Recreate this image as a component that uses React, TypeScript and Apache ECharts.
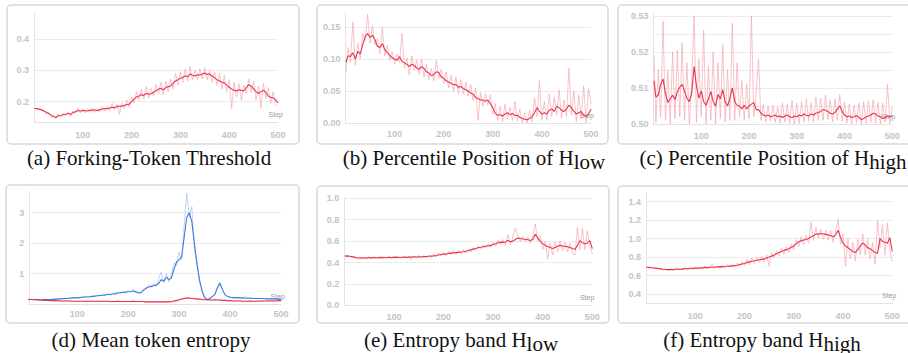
import React, { useEffect, useRef } from "react";
import * as echarts from "echarts";

const steps = [
  1, 5, 10, 15, 20, 25, 30, 35, 40, 45, 50, 55, 60, 65, 70, 75, 80, 85, 90, 95,
  100, 105, 110, 115, 120, 125, 130, 135, 140, 145, 150, 155, 160, 165, 170, 175, 180, 185, 190, 195,
  200, 205, 210, 215, 220, 225, 230, 235, 240, 245, 250, 255, 260, 265, 270, 275, 280, 285, 290, 295,
  300, 305, 310, 315, 320, 325, 330, 335, 340, 345, 350, 355, 360, 365, 370, 375, 380, 385, 390, 395,
  400, 405, 410, 415, 420, 425, 430, 435, 440, 445, 450, 455, 460, 465, 470, 475, 480, 485, 490, 495, 500,
];

// (a) Forking-Token Threshold
const thresholdSmooth = [
  0.178, 0.178, 0.176, 0.175, 0.170, 0.166, 0.162, 0.157, 0.152, 0.150,
  0.155, 0.156, 0.158, 0.160, 0.162, 0.160, 0.165, 0.168, 0.172, 0.170,
  0.172, 0.171, 0.170, 0.173, 0.172, 0.174, 0.171, 0.175, 0.176, 0.178,
  0.177, 0.180, 0.182, 0.181, 0.184, 0.186, 0.185, 0.188, 0.190, 0.192,
  0.200, 0.208, 0.215, 0.218, 0.222, 0.220, 0.226, 0.224, 0.225, 0.230,
  0.235, 0.240, 0.242, 0.238, 0.244, 0.248, 0.250, 0.258, 0.266, 0.270,
  0.275, 0.278, 0.282, 0.280, 0.288, 0.284, 0.282, 0.286, 0.285, 0.288,
  0.291, 0.287, 0.288, 0.282, 0.276, 0.270, 0.266, 0.262, 0.260, 0.252,
  0.246, 0.240, 0.236, 0.234, 0.238, 0.236, 0.234, 0.245, 0.254, 0.250,
  0.240, 0.232, 0.226, 0.232, 0.236, 0.230, 0.218, 0.214, 0.212, 0.206, 0.196,
];
const thresholdRaw = [
  0.182, 0.172, 0.180, 0.170, 0.174, 0.160, 0.166, 0.150, 0.156, 0.145,
  0.160, 0.150, 0.163, 0.155, 0.168, 0.152, 0.170, 0.162, 0.180, 0.163,
  0.176, 0.164, 0.178, 0.165, 0.180, 0.166, 0.178, 0.168, 0.185, 0.170,
  0.186, 0.172, 0.195, 0.174, 0.192, 0.160, 0.196, 0.178, 0.205, 0.182,
  0.215, 0.195, 0.232, 0.205, 0.240, 0.208, 0.248, 0.212, 0.242, 0.218,
  0.255, 0.225, 0.262, 0.222, 0.265, 0.232, 0.272, 0.240, 0.290, 0.252,
  0.296, 0.262, 0.305, 0.265, 0.312, 0.268, 0.300, 0.270, 0.305, 0.272,
  0.308, 0.270, 0.300, 0.262, 0.295, 0.252, 0.290, 0.240, 0.285, 0.232,
  0.270, 0.178, 0.262, 0.215, 0.258, 0.205, 0.252, 0.225, 0.272, 0.230,
  0.265, 0.205, 0.250, 0.180, 0.258, 0.210, 0.245, 0.195, 0.232, 0.190, 0.185,
];

// (b) Percentile position of H_low
const lowPctSmooth = [
  0.095, 0.105, 0.104, 0.110, 0.100, 0.112, 0.108, 0.122, 0.135, 0.140,
  0.134, 0.137, 0.130, 0.120, 0.118, 0.124, 0.115, 0.110, 0.106, 0.102,
  0.100, 0.098, 0.104, 0.096, 0.094, 0.092, 0.088, 0.092, 0.090, 0.086,
  0.084, 0.088, 0.085, 0.080, 0.078, 0.074, 0.076, 0.080, 0.079, 0.072,
  0.070, 0.066, 0.064, 0.062, 0.060, 0.060, 0.056, 0.057, 0.054, 0.052,
  0.050, 0.047, 0.045, 0.040, 0.038, 0.036, 0.036, 0.034, 0.036, 0.030,
  0.024, 0.015, 0.012, 0.013, 0.011, 0.014, 0.016, 0.013, 0.015, 0.012,
  0.012, 0.009, 0.007, 0.006, 0.005, 0.007, 0.010, 0.016, 0.024, 0.018,
  0.014, 0.016, 0.014, 0.020, 0.022, 0.018, 0.026, 0.024, 0.020, 0.018,
  0.022, 0.028, 0.024, 0.018, 0.014, 0.016, 0.018, 0.012, 0.010, 0.014, 0.022,
];
const lowPctRaw = [
  0.078, 0.118, 0.095, 0.158, 0.090, 0.125, 0.100, 0.140, 0.128, 0.170,
  0.125, 0.152, 0.122, 0.132, 0.108, 0.150, 0.105, 0.122, 0.098, 0.112,
  0.092, 0.108, 0.095, 0.140, 0.086, 0.102, 0.075, 0.105, 0.082, 0.098,
  0.076, 0.100, 0.072, 0.092, 0.068, 0.085, 0.066, 0.098, 0.070, 0.084,
  0.062, 0.080, 0.055, 0.075, 0.050, 0.072, 0.046, 0.068, 0.045, 0.064,
  0.042, 0.060, 0.035, 0.055, 0.004, 0.048, 0.026, 0.046, 0.028, 0.044,
  0.014, 0.030, 0.004, 0.026, 0.002, 0.030, 0.006, 0.024, 0.004, 0.034,
  0.002, 0.022, 0.000, 0.016, 0.000, 0.020, 0.002, 0.040, 0.010, 0.066,
  0.004, 0.034, 0.004, 0.046, 0.010, 0.040, 0.012, 0.052, 0.008, 0.036,
  0.010, 0.086, 0.012, 0.050, 0.002, 0.044, 0.006, 0.058, 0.000, 0.054, 0.030,
];

// (c) Percentile position of H_high
const highPctSmooth = [
  0.5120, 0.5075, 0.5080, 0.5110, 0.5125, 0.5085, 0.5060, 0.5070, 0.5080, 0.5068,
  0.5090, 0.5102, 0.5110, 0.5092, 0.5072, 0.5062, 0.5085, 0.5160, 0.5105, 0.5072,
  0.5092, 0.5062, 0.5052, 0.5070, 0.5090, 0.5062, 0.5050, 0.5082, 0.5070, 0.5095,
  0.5062, 0.5050, 0.5072, 0.5100, 0.5062, 0.5052, 0.5050, 0.5042, 0.5052, 0.5042,
  0.5050, 0.5055, 0.5060, 0.5040, 0.5040, 0.5030, 0.5025, 0.5022, 0.5025, 0.5020,
  0.5022, 0.5025, 0.5020, 0.5022, 0.5018, 0.5022, 0.5025, 0.5020, 0.5018, 0.5022,
  0.5020, 0.5025, 0.5022, 0.5028, 0.5024, 0.5022, 0.5028, 0.5025, 0.5030, 0.5032,
  0.5035, 0.5040, 0.5038, 0.5035, 0.5030, 0.5028, 0.5032, 0.5042, 0.5050, 0.5035,
  0.5025, 0.5020, 0.5022, 0.5018, 0.5020, 0.5024, 0.5018, 0.5012, 0.5015, 0.5020,
  0.5022, 0.5025, 0.5030, 0.5028, 0.5022, 0.5020, 0.5015, 0.5018, 0.5022, 0.5020, 0.5022,
];
const highPctRaw = [
  0.5190, 0.5005, 0.5150, 0.5020, 0.5285, 0.5010, 0.5150, 0.5000, 0.5200, 0.5015,
  0.5205, 0.5020, 0.5225, 0.5010, 0.5170, 0.5000, 0.5120, 0.5300, 0.5005, 0.5180,
  0.5020, 0.5260, 0.5000, 0.5160, 0.5010, 0.5200, 0.5000, 0.5170, 0.5015, 0.5220,
  0.5005, 0.5150, 0.5010, 0.5280, 0.5010, 0.5170, 0.5020, 0.5120, 0.5010, 0.5110,
  0.5015, 0.5300, 0.5020, 0.5090, 0.5180, 0.5010, 0.5055, 0.5005, 0.5050, 0.5008,
  0.5052, 0.5005, 0.5048, 0.5002, 0.5060, 0.5005, 0.5055, 0.5002, 0.5065, 0.5000,
  0.5058, 0.5002, 0.5062, 0.5005, 0.5070, 0.5008, 0.5060, 0.5005, 0.5075, 0.5010,
  0.5072, 0.5010, 0.5080, 0.5012, 0.5068, 0.5005, 0.5070, 0.5010, 0.5082, 0.5008,
  0.5060, 0.5002, 0.5055, 0.5000, 0.5052, 0.5003, 0.5058, 0.5000, 0.5062, 0.5002,
  0.5065, 0.5005, 0.5068, 0.5002, 0.5060, 0.5000, 0.5058, 0.5005, 0.5110, 0.5002, 0.5050,
];

// (d) Mean token entropy: two runs (blue, red)
const entropyBlueSmooth = [
  0.15, 0.15, 0.15, 0.15, 0.15, 0.14, 0.14, 0.15, 0.15, 0.15,
  0.15, 0.16, 0.16, 0.17, 0.17, 0.18, 0.18, 0.19, 0.20, 0.20,
  0.21, 0.21, 0.22, 0.23, 0.23, 0.24, 0.25, 0.26, 0.27, 0.28,
  0.29, 0.30, 0.31, 0.31, 0.33, 0.34, 0.36, 0.37, 0.38, 0.39,
  0.40, 0.41, 0.43, 0.40, 0.36, 0.38, 0.45, 0.52, 0.56, 0.58,
  0.60, 0.62, 0.68, 0.80, 0.75, 0.88, 0.80, 0.86, 1.15, 1.38,
  1.45, 1.55, 2.20, 2.85, 3.00, 2.70, 2.00, 1.30, 0.80, 0.42,
  0.22, 0.15, 0.17, 0.25, 0.30, 0.52, 0.68, 0.48, 0.30, 0.25,
  0.22, 0.21, 0.21, 0.20, 0.20, 0.20, 0.19, 0.19, 0.19, 0.18,
  0.18, 0.18, 0.18, 0.18, 0.17, 0.17, 0.17, 0.17, 0.16, 0.16, 0.16,
];
const entropyBlueRaw = [
  0.16, 0.14, 0.16, 0.14, 0.16, 0.13, 0.15, 0.14, 0.16, 0.14,
  0.16, 0.15, 0.17, 0.16, 0.18, 0.17, 0.19, 0.18, 0.21, 0.19,
  0.22, 0.20, 0.24, 0.22, 0.25, 0.23, 0.27, 0.24, 0.29, 0.27,
  0.31, 0.28, 0.34, 0.29, 0.36, 0.32, 0.40, 0.34, 0.42, 0.36,
  0.44, 0.38, 0.48, 0.36, 0.40, 0.33, 0.50, 0.48, 0.62, 0.54,
  0.68, 0.58, 0.85, 1.05, 0.70, 1.00, 0.72, 1.00, 1.35, 1.25,
  1.70, 1.45, 2.60, 3.65, 2.85, 3.20, 1.80, 1.45, 0.70, 0.50,
  0.18, 0.14, 0.20, 0.22, 0.34, 0.58, 0.72, 0.44, 0.33, 0.24,
  0.24, 0.20, 0.23, 0.19, 0.22, 0.19, 0.26, 0.18, 0.21, 0.17,
  0.20, 0.17, 0.19, 0.17, 0.19, 0.16, 0.18, 0.16, 0.18, 0.15, 0.17,
];
const entropyRedSmooth = [
  0.15, 0.15, 0.15, 0.14, 0.14, 0.13, 0.13, 0.12, 0.12, 0.12,
  0.11, 0.11, 0.11, 0.10, 0.10, 0.10, 0.10, 0.10, 0.09, 0.09,
  0.09, 0.09, 0.09, 0.09, 0.09, 0.09, 0.09, 0.09, 0.09, 0.09,
  0.09, 0.09, 0.09, 0.08, 0.08, 0.08, 0.09, 0.08, 0.08, 0.08,
  0.08, 0.08, 0.09, 0.08, 0.08, 0.08, 0.08, 0.07, 0.07, 0.07,
  0.07, 0.07, 0.07, 0.07, 0.07, 0.07, 0.07, 0.08, 0.10, 0.12,
  0.14, 0.16, 0.18, 0.20, 0.19, 0.18, 0.17, 0.17, 0.16, 0.15,
  0.14, 0.14, 0.13, 0.13, 0.14, 0.13, 0.13, 0.12, 0.12, 0.11,
  0.11, 0.10, 0.10, 0.10, 0.10, 0.09, 0.09, 0.09, 0.10, 0.09,
  0.09, 0.09, 0.10, 0.10, 0.10, 0.10, 0.10, 0.10, 0.10, 0.11, 0.11,
];
const entropyRedRaw = [
  0.17, 0.14, 0.16, 0.13, 0.15, 0.12, 0.14, 0.11, 0.13, 0.11,
  0.12, 0.10, 0.12, 0.09, 0.11, 0.09, 0.11, 0.09, 0.10, 0.08,
  0.10, 0.08, 0.10, 0.08, 0.10, 0.08, 0.10, 0.08, 0.10, 0.08,
  0.10, 0.08, 0.10, 0.07, 0.09, 0.07, 0.10, 0.07, 0.09, 0.07,
  0.09, 0.07, 0.10, 0.07, 0.09, 0.07, 0.09, 0.06, 0.08, 0.06,
  0.08, 0.06, 0.08, 0.06, 0.08, 0.06, 0.08, 0.06, 0.09, 0.07,
  0.13, 0.15, 0.20, 0.18, 0.22, 0.17, 0.20, 0.15, 0.18, 0.14,
  0.16, 0.12, 0.15, 0.12, 0.16, 0.12, 0.15, 0.11, 0.13, 0.10,
  0.12, 0.09, 0.11, 0.09, 0.12, 0.08, 0.10, 0.08, 0.11, 0.08,
  0.10, 0.08, 0.11, 0.09, 0.12, 0.09, 0.11, 0.09, 0.12, 0.10, 0.12,
];

// (e) Entropy band H_low
const bandLowSmooth = [
  0.460, 0.462, 0.458, 0.455, 0.450, 0.445, 0.442, 0.445, 0.440, 0.444,
  0.446, 0.443, 0.447, 0.444, 0.446, 0.448, 0.445, 0.447, 0.449, 0.446,
  0.448, 0.450, 0.447, 0.449, 0.451, 0.448, 0.452, 0.450, 0.453, 0.451,
  0.454, 0.452, 0.456, 0.455, 0.458, 0.460, 0.462, 0.465, 0.470, 0.475,
  0.480, 0.478, 0.485, 0.488, 0.490, 0.492, 0.495, 0.498, 0.500, 0.505,
  0.510, 0.518, 0.525, 0.530, 0.538, 0.542, 0.548, 0.552, 0.555, 0.560,
  0.568, 0.575, 0.585, 0.590, 0.588, 0.592, 0.605, 0.595, 0.600, 0.615,
  0.628, 0.625, 0.620, 0.618, 0.612, 0.605, 0.615, 0.665, 0.630, 0.600,
  0.575, 0.560, 0.550, 0.540, 0.530, 0.540, 0.552, 0.560, 0.555, 0.550,
  0.548, 0.540, 0.530, 0.522, 0.560, 0.605, 0.585, 0.575, 0.580, 0.605, 0.530,
];
const bandLowRaw = [
  0.470, 0.452, 0.468, 0.445, 0.458, 0.430, 0.450, 0.432, 0.452, 0.428,
  0.455, 0.435, 0.456, 0.432, 0.455, 0.438, 0.456, 0.436, 0.458, 0.438,
  0.457, 0.440, 0.456, 0.438, 0.460, 0.440, 0.462, 0.425, 0.462, 0.442,
  0.464, 0.442, 0.468, 0.445, 0.470, 0.446, 0.478, 0.448, 0.488, 0.460,
  0.496, 0.465, 0.502, 0.470, 0.510, 0.475, 0.515, 0.478, 0.522, 0.488,
  0.528, 0.500, 0.540, 0.512, 0.552, 0.525, 0.562, 0.535, 0.570, 0.540,
  0.588, 0.552, 0.610, 0.565, 0.615, 0.560, 0.660, 0.565, 0.640, 0.720,
  0.650, 0.595, 0.645, 0.590, 0.640, 0.580, 0.650, 0.760, 0.600, 0.650,
  0.520, 0.600, 0.430, 0.580, 0.470, 0.590, 0.500, 0.600, 0.510, 0.590,
  0.500, 0.580, 0.480, 0.470, 0.730, 0.520, 0.720, 0.520, 0.700, 0.550, 0.480,
];

// (f) Entropy band H_high
const bandHighSmooth = [
  0.690, 0.688, 0.685, 0.682, 0.680, 0.676, 0.672, 0.668, 0.665, 0.664,
  0.666, 0.664, 0.668, 0.670, 0.668, 0.672, 0.675, 0.673, 0.676, 0.678,
  0.680, 0.682, 0.680, 0.685, 0.688, 0.686, 0.690, 0.692, 0.690, 0.694,
  0.696, 0.694, 0.698, 0.700, 0.704, 0.702, 0.708, 0.712, 0.718, 0.725,
  0.730, 0.740, 0.748, 0.755, 0.760, 0.765, 0.770, 0.775, 0.780, 0.790,
  0.800, 0.810, 0.822, 0.835, 0.848, 0.860, 0.872, 0.880, 0.890, 0.905,
  0.920, 0.945, 0.965, 0.975, 0.985, 0.990, 1.000, 1.020, 1.030, 1.050,
  1.048, 1.055, 1.050, 1.045, 1.040, 1.030, 1.020, 1.040, 1.090, 1.010,
  0.950, 0.920, 0.900, 0.880, 0.860, 0.850, 0.880, 0.920, 0.950, 0.930,
  0.900, 0.890, 0.870, 0.850, 0.840, 1.000, 0.970, 0.960, 0.950, 1.010, 0.860,
];
const bandHighRaw = [
  0.700, 0.678, 0.695, 0.672, 0.690, 0.665, 0.682, 0.655, 0.676, 0.652,
  0.678, 0.655, 0.680, 0.658, 0.680, 0.660, 0.686, 0.662, 0.688, 0.665,
  0.692, 0.668, 0.692, 0.670, 0.700, 0.672, 0.705, 0.728, 0.676, 0.708,
  0.680, 0.712, 0.682, 0.718, 0.688, 0.725, 0.690, 0.735, 0.700, 0.750,
  0.708, 0.775, 0.715, 0.790, 0.730, 0.800, 0.740, 0.810, 0.745, 0.825,
  0.700, 0.845, 0.790, 0.870, 0.810, 0.900, 0.830, 0.910, 0.850, 0.940,
  0.880, 0.990, 0.910, 1.020, 0.930, 1.040, 0.950, 1.180, 0.980, 1.120,
  1.000, 1.100, 0.990, 1.090, 0.980, 1.090, 0.960, 1.080, 1.210, 0.940,
  1.050, 0.700, 1.000, 0.780, 0.960, 0.760, 0.990, 0.820, 1.050, 0.820,
  1.000, 0.780, 0.960, 0.720, 1.200, 0.900, 1.150, 0.820, 1.170, 0.880, 0.750,
];

const captions = [
  "{m|(a) Forking-Token Threshold}",
  "{m|(b) Percentile Position of H}{sub|low}",
  "{m|(c) Percentile Position of H}{sub|high}",
  "{m|(d) Mean token entropy}",
  "{m|(e) Entropy band H}{sub|low}",
  "{m|(f) Entropy band H}{sub|high}",
];

const RED = "#e8344c";
const RED_LIGHT = "#f5a6b0";
const BLUE = "#3d7cdc";
const BLUE_LIGHT = "#a6c1ee";
const SERIF = "Liberation Serif";

type Line = { raw: number[]; smooth: number[]; dark: string; light: string };
type Panel = {
  grid: { left: number; top: number; width: number; height: number };
  xMin: number;
  yMin: number;
  yMax: number;
  gridStep: number;
  labelStep: number;
  decimals: number;
  showTopLine: boolean;
  xLabelMargin: number;
  stepGap: number;
  lines: Line[];
  box: { x: number; y: number; width: number; height: number };
  caption: { x: number; y: number };
};

const panels: Panel[] = [
  {
    grid: { left: 34, top: 13, width: 244, height: 109 },
    xMin: 0, yMin: 0.135, yMax: 0.483, gridStep: 0.1, labelStep: 0.1, decimals: 1,
    showTopLine: false, xLabelMargin: 8, stepGap: 5,
    lines: [{ raw: thresholdRaw, smooth: thresholdSmooth, dark: RED, light: RED_LIGHT }],
    box: { x: 7, y: 5, width: 292, height: 139 },
    caption: { x: 149, y: 158 },
  },
  {
    grid: { left: 345.5, top: 13, width: 245.5, height: 110 },
    xMin: 0, yMin: 0, yMax: 0.172, gridStep: 0.05, labelStep: 0.05, decimals: 2,
    showTopLine: false, xLabelMargin: 6, stepGap: 3,
    lines: [{ raw: lowPctRaw, smooth: lowPctSmooth, dark: RED, light: RED_LIGHT }],
    box: { x: 317, y: 5, width: 291, height: 139 },
    caption: { x: 474, y: 158 },
  },
  {
    grid: { left: 653.5, top: 13, width: 238.8, height: 111 },
    xMin: 0, yMin: 0.5, yMax: 0.5308, gridStep: 0.005, labelStep: 0.01, decimals: 2,
    showTopLine: false, xLabelMargin: 7, stepGap: 3,
    lines: [{ raw: highPctRaw, smooth: highPctSmooth, dark: RED, light: RED_LIGHT }],
    box: { x: 618, y: 5, width: 300, height: 139 },
    caption: { x: 773, y: 158 },
  },
  {
    grid: { left: 29.3, top: 192, width: 251.7, height: 112 },
    xMin: 6, yMin: 0, yMax: 3.68, gridStep: 1, labelStep: 1, decimals: 0,
    showTopLine: false, xLabelMargin: 5, stepGap: 4,
    lines: [
      { raw: entropyBlueRaw, smooth: entropyBlueSmooth, dark: BLUE, light: BLUE_LIGHT },
      { raw: entropyRedRaw, smooth: entropyRedSmooth, dark: RED, light: RED_LIGHT },
    ],
    box: { x: 6, y: 185, width: 293, height: 138 },
    caption: { x: 151, y: 340 },
  },
  {
    grid: { left: 344.3, top: 198.3, width: 248, height: 107 },
    xMin: 0, yMin: 0, yMax: 1.0, gridStep: 0.2, labelStep: 0.2, decimals: 1,
    showTopLine: true, xLabelMargin: 7, stepGap: 2,
    lines: [{ raw: bandLowRaw, smooth: bandLowSmooth, dark: RED, light: RED_LIGHT }],
    box: { x: 317, y: 186, width: 292, height: 137 },
    caption: { x: 461, y: 340 },
  },
  {
    grid: { left: 646, top: 192.3, width: 246.3, height: 111 },
    xMin: 0, yMin: 0.3, yMax: 1.5, gridStep: 0.2, labelStep: 0.2, decimals: 1,
    showTopLine: false, xLabelMargin: 8, stepGap: 4,
    lines: [{ raw: bandHighRaw, smooth: bandHighSmooth, dark: RED, light: RED_LIGHT }],
    box: { x: 618, y: 186, width: 300, height: 137 },
    caption: { x: 762, y: 340 },
  },
];

const pairs = (vals: number[]) => steps.map((s, i) => [s, vals[i]]);

const LABEL_COLOR = "#c4c4c4";
const AXIS_COLOR = "#e2e2e2";
const GRID_COLOR = "#ececec";

function buildOption() {
  const grid: any[] = [];
  const xAxis: any[] = [];
  const yAxis: any[] = [];
  const series: any[] = [];
  const graphic: any[] = [];

  panels.forEach((p, i) => {
    grid.push({ ...p.grid, containLabel: false });
    xAxis.push({
      type: "value",
      gridIndex: i,
      min: p.xMin,
      max: 500,
      minInterval: 100,
      maxInterval: 100,
      axisLine: { show: true, lineStyle: { color: AXIS_COLOR, width: 1 } },
      axisTick: { show: false },
      splitLine: { show: false },
      axisLabel: {
        color: LABEL_COLOR,
        fontSize: 9,
        fontWeight: "bold",
        fontFamily: "Liberation Sans",
        margin: p.xLabelMargin,
        showMinLabel: false,
        formatter: (v: number) => (v > 0 && Math.abs(v % 100) < 1e-6 ? String(v) : ""),
      },
      name: "Step",
      nameLocation: "end",
      nameGap: p.stepGap,
      nameTextStyle: {
        color: "#9b9ba8",
        fontSize: 7,
        fontFamily: "Liberation Sans",
        align: "right",
        verticalAlign: "bottom",
        padding: [0, 0, 4, 0],
      },
    });
    yAxis.push({
      type: "value",
      gridIndex: i,
      min: p.yMin,
      max: p.yMax,
      minInterval: p.gridStep,
      maxInterval: p.gridStep,
      splitNumber: 6,
      axisLine: { show: true, lineStyle: { color: AXIS_COLOR, width: 1 } },
      axisTick: { show: false },
      splitLine: {
        show: true,
        showMinLine: false,
        showMaxLine: p.showTopLine,
        lineStyle: { color: GRID_COLOR, width: 1 },
      },
      axisLabel: {
        color: LABEL_COLOR,
        fontSize: 9,
        fontWeight: "bold",
        fontFamily: "Liberation Sans",
        margin: 5,
        formatter: (v: number) => {
          const k = Math.round(v / p.labelStep);
          if (Math.abs(v - k * p.labelStep) > p.labelStep * 1e-3) return "";
          if (p.decimals === 0 && k === 0) return "";
          return (k * p.labelStep).toFixed(p.decimals);
        },
      },
    });
    p.lines.forEach((ln) => {
      series.push({
        type: "line",
        xAxisIndex: i,
        yAxisIndex: i,
        data: pairs(ln.raw),
        showSymbol: false,
        silent: true,
        lineStyle: { color: ln.light, width: 0.9, opacity: 0.75 },
        z: 2,
      });
    });
    p.lines.forEach((ln, j) => {
      series.push({
        type: "line",
        xAxisIndex: i,
        yAxisIndex: i,
        data: pairs(ln.smooth),
        showSymbol: false,
        silent: true,
        lineStyle: { color: ln.dark, width: 1.1 },
        z: 3 + j,
      });
    });
    graphic.push({
      type: "rect",
      shape: { ...p.box, r: 4 },
      style: { fill: "none", stroke: "#d8d8d8", lineWidth: 1.5 },
      silent: true,
    });
    graphic.push({
      type: "text",
      x: p.caption.x,
      y: p.caption.y,
      silent: true,
      style: {
        text: captions[i],
        fill: "#111",
        fontSize: 21,
        fontFamily: SERIF,
        align: "center",
        verticalAlign: "middle",
        rich: {
          m: { fontSize: 21, fontFamily: SERIF, fontWeight: "normal", fill: "#111" },
          sub: { fontSize: 21, fontFamily: SERIF, fontWeight: "normal", padding: [7, 0, 0, 0], fill: "#111" },
        },
      },
    });
  });

  return {
    animation: false,
    backgroundColor: "#ffffff",
    grid,
    xAxis,
    yAxis,
    series,
    graphic,
  };
}

export default function App() {
  const ref = useRef<HTMLDivElement>(null);
  useEffect(() => {
    if (!ref.current) return;
    const chart = echarts.init(ref.current, undefined, { renderer: "svg" });
    chart.setOption(buildOption() as any);
    return () => chart.dispose();
  }, []);
  return (
    <div
      ref={ref}
      style={{ position: "fixed", left: 0, top: 0, width: 908, height: 353, background: "#fff" }}
    />
  );
}
